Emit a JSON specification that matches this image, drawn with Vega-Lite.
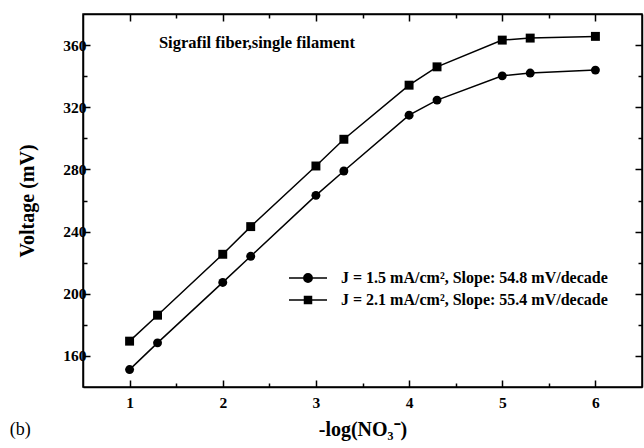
{
  "$schema": "https://vega.github.io/schema/vega-lite/v6.json",
  "autosize": "none",
  "width": 559,
  "height": 373,
  "padding": {"left": 83, "top": 14, "right": 2, "bottom": 61},
  "background": "white",
  "config": {
    "view": {"stroke": "black", "strokeWidth": 1.5},
    "font": "Liberation Serif",
    "axis": {
      "grid": false,
      "domainColor": "black",
      "domainWidth": 1.5,
      "tickColor": "black",
      "tickWidth": 1.5,
      "labelFont": "Liberation Serif",
      "labelFontWeight": "bold",
      "labelFontSize": 15.5,
      "labelColor": "black",
      "titleFont": "Liberation Serif",
      "titleFontWeight": "bold",
      "titleFontSize": 20,
      "titleColor": "black"
    }
  },
  "title": {
    "text": "(b)",
    "orient": "bottom",
    "anchor": "start",
    "frame": "bounds",
    "font": "Liberation Serif",
    "fontWeight": "normal",
    "fontSize": 18,
    "color": "black",
    "offset": -19,
    "dx": -8
  },
  "data": {
    "values": [
      {"x": 1, "y": 151.2, "series": "J = 1.5 mA/cm², Slope: 54.8 mV/decade"},
      {"x": 1.3, "y": 168.4, "series": "J = 1.5 mA/cm², Slope: 54.8 mV/decade"},
      {"x": 2, "y": 207.3, "series": "J = 1.5 mA/cm², Slope: 54.8 mV/decade"},
      {"x": 2.3, "y": 224.1, "series": "J = 1.5 mA/cm², Slope: 54.8 mV/decade"},
      {"x": 3, "y": 263.3, "series": "J = 1.5 mA/cm², Slope: 54.8 mV/decade"},
      {"x": 3.3, "y": 279, "series": "J = 1.5 mA/cm², Slope: 54.8 mV/decade"},
      {"x": 4, "y": 314.9, "series": "J = 1.5 mA/cm², Slope: 54.8 mV/decade"},
      {"x": 4.3, "y": 324.6, "series": "J = 1.5 mA/cm², Slope: 54.8 mV/decade"},
      {"x": 5, "y": 340.2, "series": "J = 1.5 mA/cm², Slope: 54.8 mV/decade"},
      {"x": 5.3, "y": 342, "series": "J = 1.5 mA/cm², Slope: 54.8 mV/decade"},
      {"x": 6, "y": 343.9, "series": "J = 1.5 mA/cm², Slope: 54.8 mV/decade"},
      {"x": 1, "y": 169.5, "series": "J = 2.1 mA/cm², Slope: 55.4 mV/decade"},
      {"x": 1.3, "y": 186.2, "series": "J = 2.1 mA/cm², Slope: 55.4 mV/decade"},
      {"x": 2, "y": 225.4, "series": "J = 2.1 mA/cm², Slope: 55.4 mV/decade"},
      {"x": 2.3, "y": 243.2, "series": "J = 2.1 mA/cm², Slope: 55.4 mV/decade"},
      {"x": 3, "y": 282.2, "series": "J = 2.1 mA/cm², Slope: 55.4 mV/decade"},
      {"x": 3.3, "y": 299.4, "series": "J = 2.1 mA/cm², Slope: 55.4 mV/decade"},
      {"x": 4, "y": 334.2, "series": "J = 2.1 mA/cm², Slope: 55.4 mV/decade"},
      {"x": 4.3, "y": 346, "series": "J = 2.1 mA/cm², Slope: 55.4 mV/decade"},
      {"x": 5, "y": 363.2, "series": "J = 2.1 mA/cm², Slope: 55.4 mV/decade"},
      {"x": 5.3, "y": 364.5, "series": "J = 2.1 mA/cm², Slope: 55.4 mV/decade"},
      {"x": 6, "y": 365.6, "series": "J = 2.1 mA/cm², Slope: 55.4 mV/decade"}
    ]
  },
  "layer": [
    {
      "mark": {"type": "line", "color": "black", "strokeWidth": 1.5},
      "encoding": {
        "x": {
          "field": "x", "type": "quantitative",
          "scale": {"domain": [0.5, 6.5], "nice": false, "zero": false},
          "axis": {"orient": "bottom", "values": [1, 2, 3, 4, 5, 6], "tickSize": -7, "labelPadding": 15, "title": "-log(NO₃⁻)", "titlePadding": 9}
        },
        "y": {
          "field": "y", "type": "quantitative",
          "scale": {"domain": [140, 380], "nice": false, "zero": false},
          "axis": {"orient": "left", "values": [160, 200, 240, 280, 320, 360], "tickSize": -7, "labelPadding": 4, "title": "Voltage (mV)", "titlePadding": 25}
        },
        "detail": {"field": "series", "type": "nominal"}
      }
    },
    {
      "mark": {"type": "point", "filled": true, "color": "black", "opacity": 1, "size": 80},
      "encoding": {
        "x": {
          "field": "x", "type": "quantitative",
          "axis": {"orient": "bottom", "values": [1.5, 2.5, 3.5, 4.5, 5.5], "tickSize": -4, "labels": false, "domain": false, "title": null}
        },
        "y": {
          "field": "y", "type": "quantitative",
          "axis": {"orient": "left", "values": [180, 220, 260, 300, 340], "tickSize": -4, "labels": false, "domain": false, "title": null}
        },
        "shape": {
          "field": "series", "type": "nominal",
          "scale": {"domain": ["J = 1.5 mA/cm², Slope: 54.8 mV/decade", "J = 2.1 mA/cm², Slope: 55.4 mV/decade"], "range": ["circle", "square"]},
          "legend": null
        }
      }
    },
    {
      "mark": {"type": "point", "filled": false, "color": "black", "opacity": 0, "strokeWidth": 1.5},
      "encoding": {
        "x": {
          "field": "x", "type": "quantitative",
          "axis": {"orient": "top", "values": [1, 2, 3, 4, 5, 6], "tickSize": -7, "labels": false, "title": null}
        },
        "y": {
          "field": "y", "type": "quantitative",
          "axis": {"orient": "right", "values": [160, 200, 240, 280, 320, 360], "tickSize": -7, "labels": false, "title": null}
        },
        "shape": {
          "field": "series", "type": "nominal",
          "scale": {
            "domain": ["J = 1.5 mA/cm², Slope: 54.8 mV/decade", "J = 2.1 mA/cm², Slope: 55.4 mV/decade"],
            "range": [
              "M-1.9,0H1.9M0.42,0A0.42,0.42,0,1,1,-0.42,0A0.42,0.42,0,1,1,0.42,0ZM0.3,0A0.3,0.3,0,1,1,-0.3,0A0.3,0.3,0,1,1,0.3,0ZM0.18,0A0.18,0.18,0,1,1,-0.18,0A0.18,0.18,0,1,1,0.18,0ZM0.06,0A0.06,0.06,0,1,1,-0.06,0A0.06,0.06,0,1,1,0.06,0Z",
              "M-1.9,0H1.9M-0.35,-0.35H0.35V0.35H-0.35ZM-0.23,-0.23H0.23V0.23H-0.23ZM-0.11,-0.11H0.11V0.11H-0.11Z"
            ]
          },
          "legend": {
            "title": null,
            "orient": "none",
            "legendX": 214,
            "legendY": 253,
            "padding": 0,
            "symbolSize": 400,
            "symbolFillColor": "black",
            "symbolStrokeColor": "black",
            "symbolStrokeWidth": 1.5,
            "symbolOpacity": 1,
            "labelFont": "Liberation Serif",
            "labelFontWeight": "bold",
            "labelFontSize": 16,
            "labelColor": "black",
            "labelOffset": 22,
            "rowPadding": 3,
            "labelLimit": 400,
            "encode": {
              "symbols": {
                "update": {
                  "stroke": {"value": "black"},
                  "strokeWidth": {"value": 1.5},
                  "fill": {"value": "black"},
                  "opacity": {"value": 1}
                }
              }
            }
          }
        }
      }
    },
    {
      "mark": {"type": "point", "opacity": 0},
      "encoding": {
        "x": {
          "field": "x", "type": "quantitative",
          "axis": {"orient": "top", "values": [1.5, 2.5, 3.5, 4.5, 5.5], "tickSize": -4, "labels": false, "domain": false, "title": null}
        },
        "y": {
          "field": "y", "type": "quantitative",
          "axis": {"orient": "right", "values": [180, 220, 260, 300, 340], "tickSize": -4, "labels": false, "domain": false, "title": null}
        }
      }
    },
    {
      "data": {"values": [{"label": "Sigrafil fiber,single filament"}]},
      "mark": {"type": "text", "align": "left", "baseline": "middle", "font": "Liberation Serif", "fontWeight": "bold", "fontSize": 16.5, "color": "black"},
      "encoding": {
        "text": {"field": "label", "type": "nominal"},
        "x": {"datum": 1.315, "type": "quantitative", "axis": null},
        "y": {"datum": 361.3, "type": "quantitative", "axis": null}
      }
    }
  ],
  "resolve": {
    "scale": {"shape": "independent"},
    "axis": {"x": "independent", "y": "independent"}
  }
}
